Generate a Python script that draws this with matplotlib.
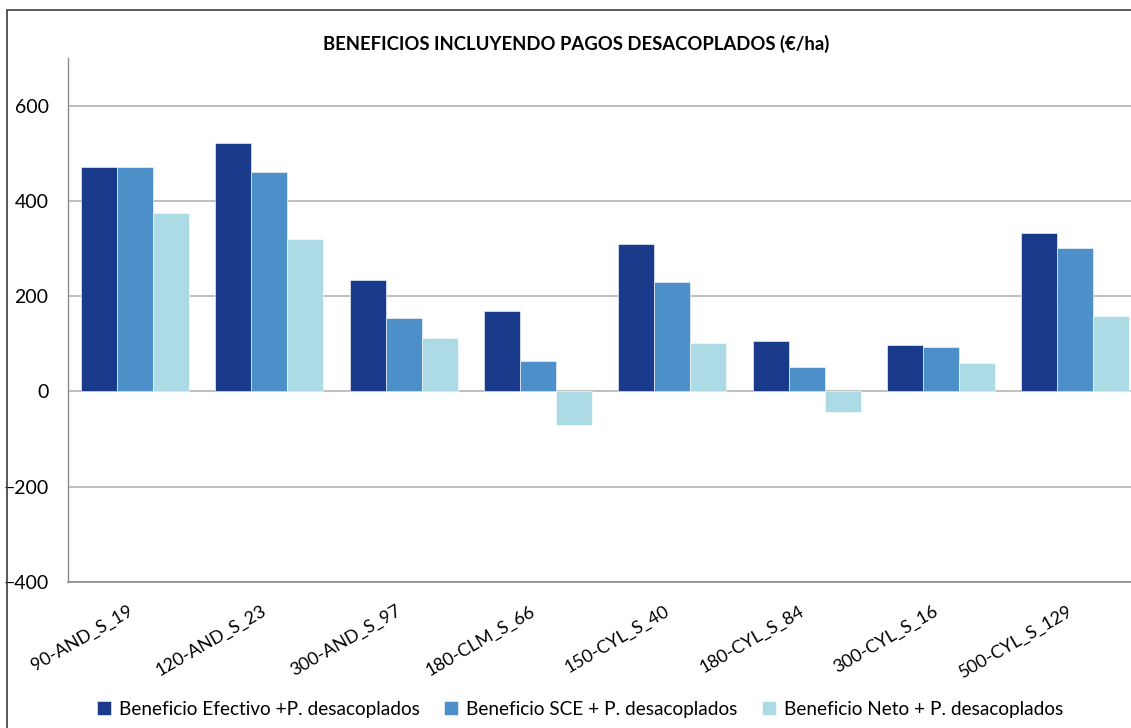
import numpy as np
import matplotlib.pyplot as plt
from matplotlib.patches import Rectangle

# Beneficios por explotacion tipo, incluyendo pagos desacoplados (EUR/ha)
explotaciones = ['90-AND_S_19', '120-AND_S_23', '300-AND_S_97', '180-CLM_S_66',
                 '150-CYL_S_40', '180-CYL_S_84', '300-CYL_S_16', '500-CYL_S_129']
beneficio_efectivo = [472, 522, 233, 169, 310, 106, 97, 333]
beneficio_sce = [472, 461, 155, 64, 230, 52, 94, 302]
beneficio_neto = [375, 320, 113, -70, 102, -43, 59, 159]

series = [
    ('Beneficio Efectivo +P. desacoplados', beneficio_efectivo, '#1a3a8b'),
    ('Beneficio SCE + P. desacoplados', beneficio_sce, '#4c8fc9'),
    ('Beneficio Neto + P. desacoplados', beneficio_neto, '#acdbe6'),
]

plt.rcParams['font.family'] = ['Lato', 'DejaVu Sans']

W, H = 1131, 728
fig = plt.figure(figsize=(W / 100, H / 100), dpi=100)

# chart frame (runs off the right and bottom edges)
fig.patches.append(Rectangle((7 / W, -0.05), 1.2, 1 - 10 / H + 0.05,
                             transform=fig.transFigure, fill=False,
                             edgecolor='#3c3c3c', linewidth=1.2))

ax = fig.add_axes([68 / W, 146 / H, 1074.4 / W, 524 / H])

x = np.arange(len(explotaciones))
width = 0.268
handles = []
for i, (label, values, color) in enumerate(series):
    b = ax.bar(x + (i - 1) * width, values, width, color=color,
               edgecolor='white', linewidth=0.4, label=label, zorder=3)
    handles.append(b)

ax.set_xlim(-0.5, len(explotaciones) - 0.5)
ax.set_ylim(-400, 700)
ax.set_yticks([-400, -200, 0, 200, 400, 600])
ax.yaxis.grid(True, color='#b4b4b4', linewidth=1.2, zorder=0)
ax.set_axisbelow(True)

for side in ['top', 'right']:
    ax.spines[side].set_visible(False)
ax.spines['left'].set_color('#8c8c8c')
ax.spines['bottom'].set_color('#8c8c8c')
ax.spines['left'].set_linewidth(1.0)
ax.spines['bottom'].set_linewidth(1.2)

ax.tick_params(axis='y', length=0, pad=14, labelsize=14)
ax.tick_params(axis='x', length=0, pad=15, labelsize=13)
ax.set_xticks(x)
ax.set_xticklabels(explotaciones, rotation=30, ha='right')

fig.text(576 / W, 1 - 44 / H, 'BENEFICIOS INCLUYENDO PAGOS DESACOPLADOS (€/ha)',
         ha='center', va='center', fontsize=13.3, fontweight='bold')

fig.legend(handles=handles, loc='center', bbox_to_anchor=(580 / W, 1 - 709 / H),
           ncol=3, frameon=False, fontsize=13.7, handlelength=0.75,
           handleheight=0.75, handletextpad=0.4, columnspacing=1.3)

plt.savefig('out.png', dpi=100)
